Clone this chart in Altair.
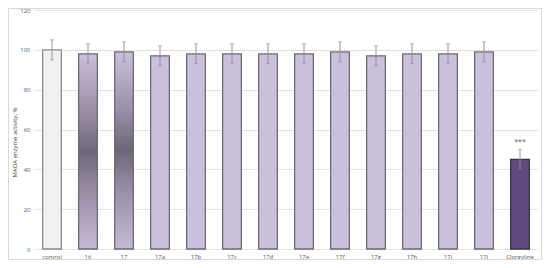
import altair as alt
import pandas as pd

categories = ["control", "16", "17", "17a", "17b", "17c", "17d", "17e", "17f", "17g", "17h", "17i", "17j", "Clorgyline"]
values = [100, 98, 99, 97, 98, 98, 98, 98, 99, 97, 98, 98, 99, 45]
errors = [5, 5, 5, 5, 5, 5, 5, 5, 5, 5, 5, 5, 5, 5]
groups = ["control", "gradient", "gradient", "normal", "normal", "normal", "normal", "normal",
          "normal", "normal", "normal", "normal", "normal", "reference"]
sig_labels = ["", "", "", "", "", "", "", "", "", "", "", "", "", "***"]
y_ticks = [0, 20, 40, 60, 80, 100, 120]

df = pd.DataFrame({
    "cat": categories, "val": values, "err": errors, "grp": groups, "sig": sig_labels,
})
df["lo"] = df["val"] - df["err"]
df["hi"] = df["val"] + df["err"]

W, H = 504, 239
FONT = "Open Sans"
YTITLE = "MAOA enzyme activity, %"

x_axis = alt.Axis(labelAngle=0, labelFontSize=6, labelColor="#595959", labelFont=FONT,
                  domain=False, ticks=False, labelPadding=4, labelOverlap=False)
y_axis = alt.Axis(values=y_ticks, labelFontSize=6, labelColor="#595959",
                  labelFont=FONT, domain=False, ticks=False, labelPadding=4, labelOverlap=False,
                  gridColor="#e4e4e4", gridWidth=1,
                  titleFontSize=6, titleFont=FONT, titleColor="#404040", titleFontWeight="normal",
                  titleX=-17, titleY=132, titleAngle=270, titleAlign="center",
                  titleBaseline="bottom")
x_scale = alt.Scale(paddingInner=0.48)
y_scale = alt.Scale(domain=[0, 120], nice=False, zero=True)


def X():
    return alt.X("cat:N", sort=categories, title=None, scale=x_scale, axis=x_axis)


def Y(field):
    return alt.Y(field, scale=y_scale, title=YTITLE, axis=y_axis)


base = alt.Chart(df)

bars = base.transform_filter(alt.datum.grp != "gradient").mark_bar(strokeWidth=1.3).encode(
    x=X(), y=Y("val:Q"),
    fill=alt.Color("grp:N", legend=None,
                   scale=alt.Scale(domain=["control", "normal", "reference"],
                                   range=["#f0f0f0", "#cbc0dc", "#5f4a7d"])),
    stroke=alt.Color("grp:N", legend=None,
                     scale=alt.Scale(domain=["control", "normal", "reference"],
                                     range=["#8a8a8a", "#6e6878", "#3c3050"])),
)

grad = alt.LinearGradient(
    gradient="linear", x1=0, x2=0, y1=0, y2=1,
    stops=[alt.GradientStop(color="#cbbfdb", offset=0),
           alt.GradientStop(color="#9a8ea6", offset=0.3),
           alt.GradientStop(color="#6e6678", offset=0.5),
           alt.GradientStop(color="#9a8ea6", offset=0.7),
           alt.GradientStop(color="#c6b9d6", offset=1)])

gbars = base.transform_filter(alt.datum.grp == "gradient").mark_bar(
    fill=grad, stroke="#6e6878", strokeWidth=1.3).encode(x=X(), y=Y("val:Q"))

rules = base.mark_rule(color="#8c8c8c", strokeWidth=0.9).encode(
    x=X(), y=Y("lo:Q"), y2="hi:Q")
caps_hi = base.mark_tick(color="#8c8c8c", thickness=0.9, size=4, orient="horizontal").encode(
    x=X(), y=Y("hi:Q"))
caps_lo = base.mark_tick(color="#8c8c8c", thickness=0.9, size=4, orient="horizontal").encode(
    x=X(), y=Y("lo:Q"))

sig = base.transform_filter(alt.datum.sig != "").mark_text(
    fontSize=7, color="#595959", dy=-7, font=FONT).encode(
    x=X(), y=Y("hi:Q"), text="sig:N")

frame = alt.Chart(pd.DataFrame({"k": [0]})).mark_rect(
    fill=None, stroke="#d9d9d9", strokeWidth=1).encode(
    x=alt.value(-25.5), x2=alt.value(W + 3.5), y=alt.value(-1.5), y2=alt.value(H + 10.5))

chart = alt.layer(bars, gbars, rules, caps_hi, caps_lo, sig, frame).properties(
    width=W, height=H,
    autosize=alt.AutoSizeParams(type="none"),
    padding={"left": 26, "top": 2, "right": 4, "bottom": 11},
    background="white",
).configure_view(stroke=None).configure_scale(bandPaddingInner=0.48)

chart.save("out.html", embed_options={"renderer": "svg", "actions": False})
